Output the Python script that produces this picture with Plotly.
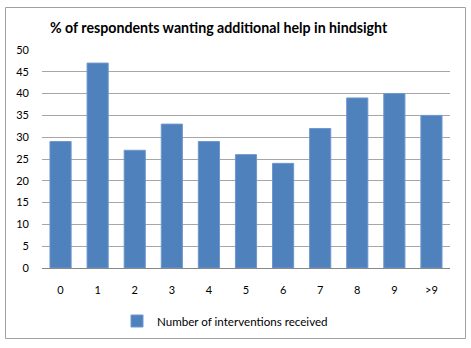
import plotly.graph_objects as go

categories = ["0", "1", "2", "3", "4", "5", "6", "7", "8", "9", ">9"]
values = [29, 47, 27, 33, 29, 26, 24, 32, 39, 40, 35]
series_name = "Number of interventions received"
title_text = "% of respondents wanting additional help in hindsight"

W, H = 471, 348
L, R, T, B = 42, 21, 50, 80
pw, ph = W - L - R, H - T - B

def px_x(p):
    return (p - L) / pw

def px_y(p):
    return (H - B - p) / ph

fig = go.Figure(
    go.Bar(
        x=categories,
        y=values,
        name=series_name,
        marker=dict(color="#4F81BD", line=dict(color="#6E97CC", width=1)),
        showlegend=True,
    )
)

fig.update_layout(
    width=W,
    height=H,
    margin=dict(l=L, r=R, t=T, b=B),
    paper_bgcolor="white",
    plot_bgcolor="white",
    font=dict(family="Lato, Arial, sans-serif", size=11, color="#000000"),
    bargap=0.43,
    title=dict(
        text="<b>" + title_text + "</b>",
        x=50 / W,
        xanchor="left",
        y=1 - 28 / H,
        yanchor="middle",
        font=dict(size=14.2, family="Lato, Arial, sans-serif", color="#000000"),
    ),
    legend=dict(
        orientation="h",
        x=px_x(117),
        xanchor="left",
        y=px_y(321),
        yanchor="middle",
        font=dict(size=11.6),
        itemwidth=30,
    ),
    xaxis=dict(
        showgrid=False,
        showline=True,
        linecolor="#888888",
        linewidth=1,
        ticks="",
        ticklabelstandoff=12,
        tickfont=dict(size=11),
    ),
    yaxis=dict(
        range=[0, 50],
        dtick=5,
        showgrid=True,
        gridcolor="#A6A6A6",
        gridwidth=1,
        zeroline=False,
        showline=False,
        ticks="",
        ticklabelstandoff=12,
        tickfont=dict(size=11),
    ),
    shapes=[
        dict(
            type="rect",
            xref="paper",
            yref="paper",
            x0=px_x(5.5),
            x1=px_x(465.5),
            y0=px_y(338.5),
            y1=px_y(7.5),
            line=dict(color="#A0A0A0", width=1),
            fillcolor="rgba(0,0,0,0)",
            layer="below",
        )
    ],
)

fig.write_html("out.html")
